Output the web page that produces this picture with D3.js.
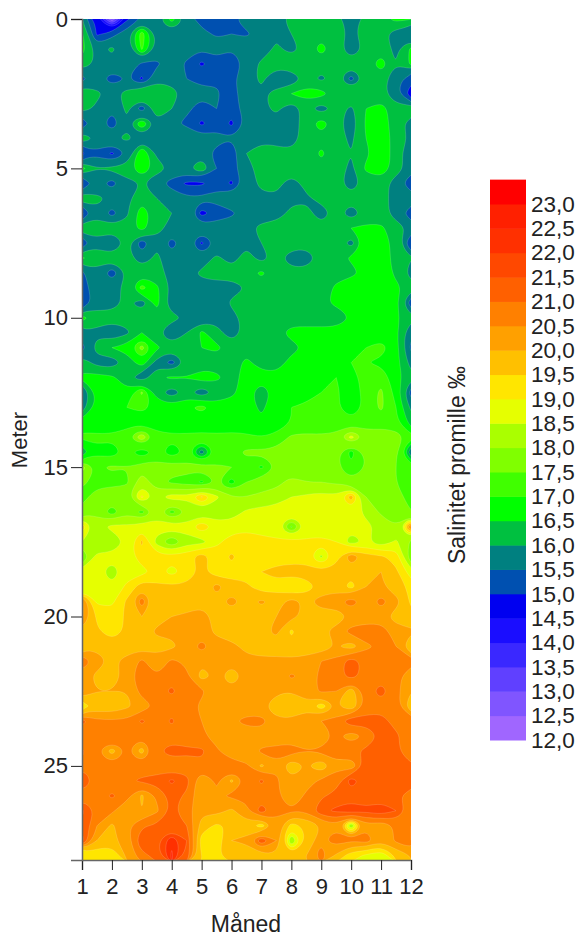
<!DOCTYPE html>
<html>
<head>
<meta charset="utf-8">
<script src="https://d3js.org/d3.v7.min.js"></script>
<style>
    body { margin: 0; background: #fff; }
    text { font-family: "Liberation Sans", Arial, sans-serif; fill: #222; }
</style>
</head>
<body>
<div id="chart"></div>
<script>
// tick labels
const monthTicks = [1, 2, 3, 4, 5, 6, 7, 8, 9, 10, 11, 12];
const depthTicks = [0, 5, 10, 15, 20, 25];

// legend levels (lower limit of every band) and band colours
const levels = d3.range(12, 23.5, 0.5);
const bandColors = ["#a066ff", "#8055ff", "#6040ff", "#3a28ff", "#1a0dff", "#0000f0",
    "#0050b0", "#008080", "#00c040", "#00ff00", "#40ff00", "#80ff00",
    "#aaff00", "#e6ff00", "#ffe600", "#ffc000", "#ffa000", "#ff8000",
    "#ff6000", "#ff4800", "#ff3000", "#ff2000", "#ff0000"];

// grid positions: every half month, every half meter
const gridMonths = d3.range(1, 12.5, 0.5);
const gridDepths = d3.range(0, 28.5, 0.5);

// salinity, one row per depth
const salinity = [
[16.0,14.8,12.6,14.9,15.6,15.9,16.7,15.9,15.2,15.1,15.4,15.8,15.8,15.9,16.1,16.2,16.2,16.2,15.7,16.2,16.3,16.7,16.5],
[16.6,14.9,15.3,15.8,17.3,15.9,15.8,15.8,15.7,15.4,15.5,15.4,15.8,15.9,16.0,16.2,16.3,16.2,15.9,16.2,16.2,15.7,15.5],
[16.7,15.8,16.1,15.6,17.1,15.8,15.8,15.8,15.5,15.8,15.5,15.9,15.7,16.1,15.8,16.2,16.7,16.2,15.7,16.1,16.2,15.9,16.6],
[16.3,15.9,15.8,15.9,15.4,15.4,15.8,15.4,14.9,15.3,15.0,15.7,16.1,16.2,16.4,16.2,16.2,16.2,16.2,16.2,16.8,16.0,16.6],
[15.4,15.7,15.3,15.5,14.9,15.9,15.8,15.5,15.4,15.4,15.4,15.8,16.1,15.6,15.6,16.2,15.9,16.2,15.3,16.2,16.2,15.7,15.2],
[16.4,16.1,15.8,16.2,16.5,16.3,16.2,15.8,15.6,15.6,15.2,15.9,15.9,16.2,16.5,16.7,16.7,16.2,16.5,16.2,16.2,15.6,14.7],
[16.2,15.9,15.6,16.1,15.2,16.3,16.0,15.6,15.3,15.5,15.2,15.8,15.9,16.1,15.7,16.2,15.7,16.2,15.9,16.5,16.7,16.2,16.4],
[15.2,15.8,15.2,15.9,16.9,15.9,15.6,15.4,14.9,15.3,14.9,15.6,15.8,15.8,15.8,16.2,16.8,16.2,15.7,16.6,16.8,16.2,15.8],
[16.4,15.9,15.9,16.1,15.8,16.0,15.9,15.9,15.7,15.7,15.5,15.8,15.9,15.9,15.8,16.2,16.3,16.2,15.9,16.5,16.8,16.3,15.9],
[14.9,15.4,14.9,15.5,17.0,15.9,15.9,15.7,15.8,15.3,15.2,16.0,16.2,16.1,16.1,16.2,16.6,16.2,16.0,16.4,16.8,16.3,15.5],
[16.7,16.0,16.1,16.2,17.0,16.2,15.9,15.9,16.4,15.5,15.3,15.9,16.1,16.2,16.4,16.2,16.3,16.2,15.9,16.6,16.9,16.2,15.8],
[15.0,15.7,15.3,15.9,16.0,15.7,15.3,14.9,14.9,15.3,14.9,15.8,16.1,16.2,15.7,16.2,16.5,16.2,15.7,16.2,16.2,15.8,15.1],
[16.4,16.1,15.9,15.9,16.3,16.0,15.8,15.6,15.6,15.7,15.9,15.9,15.9,15.9,15.9,15.9,16.2,16.2,16.2,16.2,16.2,15.8,15.9],
[14.9,15.9,15.3,15.9,16.8,16.2,16.0,15.9,14.8,15.2,15.4,15.8,15.8,15.8,16.1,16.2,15.7,16.2,15.7,16.2,16.2,15.8,15.2],
[16.4,16.2,16.2,16.2,16.7,16.1,15.9,15.8,15.8,15.8,15.8,15.9,16.1,16.2,16.4,16.2,16.2,16.2,16.5,16.6,16.6,16.2,15.9],
[15.1,15.9,15.5,16.1,15.2,15.9,15.3,15.8,14.9,15.6,15.9,15.9,16.0,16.2,16.3,16.2,16.2,16.3,15.8,16.7,16.8,16.3,15.0],
[16.6,16.2,16.2,16.2,15.7,16.1,15.7,15.9,15.7,16.1,15.8,16.2,15.8,16.2,15.7,15.7,16.2,16.2,16.6,16.7,16.8,16.3,16.0],
[15.4,15.9,15.2,16.0,16.3,16.2,15.8,15.8,16.1,16.2,16.2,16.3,16.6,16.2,16.2,16.2,16.2,16.3,16.3,16.7,16.8,16.4,15.8],
[15.1,16.0,15.9,16.1,17.2,16.6,15.9,15.8,15.8,15.8,15.8,16.0,16.2,16.2,16.2,16.2,16.2,16.6,17.0,16.7,16.8,16.6,16.3],
[15.0,15.8,15.8,16.1,15.7,16.7,15.6,15.8,15.9,15.5,16.1,16.1,16.1,16.2,16.4,16.2,16.4,16.6,16.7,16.8,16.7,16.6,15.2],
[16.7,16.2,16.2,16.2,16.4,16.2,16.2,15.9,15.7,15.8,15.8,16.2,16.2,16.2,16.2,16.2,16.2,16.2,16.5,16.7,16.8,16.6,16.2],
[15.9,15.9,15.6,15.9,16.5,16.1,15.5,16.0,16.6,16.2,15.7,16.2,16.2,16.3,16.7,16.7,16.7,16.7,16.8,16.8,16.7,16.6,15.6],
[15.3,16.2,16.5,16.7,17.7,16.6,16.2,16.2,16.5,16.6,16.3,16.3,16.3,16.3,16.3,16.6,16.8,16.8,16.9,17.0,17.2,16.7,15.4],
[16.3,15.8,15.7,16.2,16.8,15.8,15.3,16.1,16.2,16.3,16.3,16.6,16.3,16.2,16.7,16.8,16.8,16.8,17.0,17.0,16.9,16.7,15.8],
[16.6,16.7,16.6,16.2,15.6,16.4,16.6,16.5,16.8,16.6,16.3,16.7,16.7,16.7,16.7,16.7,16.8,17.0,16.9,17.1,17.3,16.7,16.2],
[15.5,16.6,16.7,16.6,17.6,16.2,15.7,16.2,15.6,16.2,16.4,16.7,16.2,16.7,16.7,16.8,17.0,17.1,16.7,17.2,17.6,16.8,15.3],
[15.7,16.7,16.7,17.0,17.1,16.9,16.7,16.9,17.2,16.7,16.7,16.7,16.4,16.8,17.0,17.1,17.1,17.1,16.5,17.2,17.6,17.0,15.9],
[16.8,16.7,16.7,16.7,16.8,16.7,16.7,16.7,16.6,16.7,16.8,16.7,16.6,16.8,17.0,17.2,17.1,17.1,17.2,17.2,17.2,17.1,16.3],
[17.1,17.1,17.1,17.4,18.4,17.2,17.1,17.1,17.2,17.1,17.1,17.1,17.0,17.1,17.6,17.6,17.6,17.7,18.7,17.8,17.9,17.8,17.2],
[16.2,16.9,16.7,17.2,16.6,17.2,16.7,17.1,15.7,17.1,17.3,17.6,17.6,17.7,17.7,17.7,17.8,17.7,16.8,17.7,17.7,17.6,15.6],
[18.2,17.4,17.6,17.5,17.8,17.7,17.7,17.7,17.7,17.6,17.5,17.3,16.9,17.5,17.6,17.6,17.6,17.6,17.1,17.5,17.7,17.5,17.4],
[17.7,17.2,17.3,17.4,18.3,17.7,17.4,17.3,16.9,17.5,16.8,17.5,17.8,17.8,18.2,18.0,18.0,17.9,17.6,17.5,17.5,17.5,17.3],
[17.2,17.9,17.9,17.9,19.1,18.3,18.8,18.6,19.6,18.6,18.0,18.0,18.1,18.3,18.5,18.6,18.7,18.6,19.8,18.0,17.7,17.6,17.4],
[17.8,17.9,17.2,17.9,17.3,18.3,17.3,18.0,18.2,18.1,18.2,18.6,18.7,18.7,18.8,18.7,18.7,18.7,18.7,18.4,17.9,17.6,17.5],
[19.3,18.2,18.7,18.6,18.8,18.7,18.8,18.7,19.4,18.8,18.8,18.9,18.6,18.7,17.4,18.6,18.8,18.7,18.7,18.6,18.4,18.0,20.6],
[18.5,18.0,18.0,18.6,19.6,18.3,17.5,18.3,18.3,18.9,19.2,19.2,19.3,19.1,19.2,19.1,19.1,19.0,18.2,18.6,18.1,18.6,17.9],
[17.4,18.7,18.7,18.7,19.3,19.2,19.2,19.3,19.8,19.2,19.6,19.2,19.2,19.2,19.3,19.2,18.4,19.3,20.4,19.7,19.6,19.3,17.6],
[18.8,18.7,18.2,18.8,18.8,19.2,18.8,19.2,19.6,19.2,19.3,19.3,19.5,19.7,19.7,19.8,19.6,19.7,19.7,19.8,20.0,19.6,18.7],
[18.5,18.7,18.6,19.1,19.8,19.6,19.6,19.6,19.6,20.2,19.7,19.6,19.2,19.3,19.0,19.2,19.7,19.8,19.3,20.0,20.1,19.7,19.4],
[20.6,18.9,18.9,19.6,20.8,19.6,19.7,19.7,19.7,19.8,20.2,19.8,20.1,19.8,20.2,19.9,20.2,20.3,20.8,20.2,20.7,20.2,19.4],
[20.6,19.4,19.2,19.6,20.0,19.8,20.0,20.1,20.4,19.7,19.7,19.6,19.7,20.0,20.1,19.9,19.8,19.7,20.1,20.2,20.2,19.8,19.7],
[19.9,19.6,19.2,19.6,19.7,20.1,20.1,20.1,20.2,19.9,19.8,19.8,19.9,20.1,19.4,19.9,19.9,20.2,20.7,20.8,20.8,20.2,20.1],
[19.7,19.9,19.8,19.7,19.8,19.8,19.9,20.2,20.7,20.2,20.1,19.9,19.8,19.8,19.7,19.7,19.7,20.0,19.7,20.4,20.6,20.5,19.5],
[21.0,20.2,19.9,20.2,20.6,20.2,20.6,20.4,20.1,20.1,20.1,20.1,20.1,20.1,20.1,20.2,20.5,20.7,21.3,20.8,20.7,20.7,20.8],
[20.2,19.9,19.7,20.2,20.9,20.5,20.8,20.6,19.8,20.1,19.8,20.1,20.1,20.1,20.6,20.3,20.6,20.8,21.2,20.8,20.8,20.7,20.1],
[20.6,20.0,20.0,20.0,20.7,20.8,21.1,20.7,20.6,20.1,20.1,20.1,20.1,20.1,20.0,20.2,20.6,20.5,19.7,20.8,21.2,20.7,20.0],
[19.2,19.7,19.6,19.9,20.2,20.6,20.7,20.7,20.4,20.1,20.1,20.1,20.1,19.7,19.6,19.9,19.2,20.0,19.5,20.7,20.8,20.7,19.6],
[21.2,20.6,20.6,20.6,21.1,20.7,21.1,20.6,20.5,20.2,20.4,20.7,20.7,20.1,20.1,20.2,20.5,20.7,21.4,21.2,21.2,20.8,21.0],
[20.6,20.6,21.0,20.7,20.6,20.7,20.7,20.7,20.6,20.3,20.1,20.1,20.2,20.1,20.3,20.1,20.1,20.6,20.2,20.6,21.1,21.1,20.7],
[21.1,20.5,19.8,20.5,19.8,20.9,21.3,21.1,21.1,20.6,20.0,20.1,20.6,20.7,20.7,20.5,20.6,20.7,20.9,21.1,21.2,21.1,20.6],
[20.9,20.7,20.6,20.7,20.7,20.7,20.6,20.7,20.9,20.6,20.9,20.6,19.9,20.4,19.6,20.0,19.6,20.4,20.1,21.2,21.2,21.1,21.1],
[21.5,20.8,20.6,20.9,21.1,21.2,21.6,21.2,20.0,20.6,19.9,20.6,21.1,20.6,20.1,20.3,20.6,20.7,21.8,21.2,21.2,21.1,21.5],
[20.8,20.7,21.1,20.7,19.9,20.6,21.2,20.9,20.1,20.4,20.6,20.6,20.7,20.6,20.1,20.6,20.9,21.2,21.2,21.2,21.1,21.1,20.7],
[21.6,20.9,20.6,20.1,20.0,20.4,21.1,20.7,20.1,20.2,19.9,20.4,21.3,20.6,20.5,20.6,21.4,21.6,21.9,21.6,22.0,21.5,20.7],
[21.4,20.5,19.9,20.4,20.9,21.1,21.1,21.0,19.8,19.4,19.6,19.8,19.2,20.4,19.3,19.6,20.0,20.4,18.0,20.4,20.0,20.6,21.0],
[21.7,20.0,19.9,20.2,21.5,21.4,22.4,21.5,19.2,19.2,20.0,20.1,21.4,20.5,18.0,19.5,20.4,20.8,20.5,20.8,20.1,20.6,21.0],
[19.0,19.1,19.0,20.1,20.8,21.2,22.6,21.3,19.5,19.4,19.9,19.7,19.8,19.9,19.6,20.0,20.8,19.9,19.2,18.9,18.6,19.6,20.0]
];

const width = 579, height = 936;
const plot = { left: 82, right: 411, top: 19, bottom: 860 };
const legend = { left: 490, right: 526 };

const svg = d3.select("#chart").append("svg")
    .attr("width", width)
    .attr("height", height)
    .style("display", "block");

const x = d3.scaleLinear().domain([1, 12]).range([plot.left, plot.right]);
const y = d3.scaleLinear().domain([0, 28.15]).range([plot.top, plot.bottom]);
const legendY = d3.scaleLinear().domain([12, 23]).range([740, 204]);

svg.append("clipPath").attr("id", "plotClip")
    .append("rect")
    .attr("x", plot.left).attr("y", plot.top)
    .attr("width", plot.right - plot.left).attr("height", plot.bottom - plot.top);

// filled contours, lowest level first so the higher ones lie on top
const contours = d3.contours()
    .size([gridMonths.length, gridDepths.length])
    .thresholds(levels)
    (salinity.flat());

// d3.contours puts grid point i at i + 0.5
const ringLine = d3.line()
    .x(d => x(gridMonths[0] + (d[0] - 0.5) * 0.5))
    .y(d => y(gridDepths[0] + (d[1] - 0.5) * 0.5))
    .curve(d3.curveBasisClosed);

const plotArea = svg.append("g").attr("clip-path", "url(#plotClip)");

plotArea.selectAll("path")
    .data(contours)
    .enter().append("path")
    .attr("d", c => c.coordinates.flatMap(poly => poly.map(ring => ringLine(ring.slice(0, -1)))).join(""))
    .attr("fill-rule", "evenodd")
    .attr("fill", (c, i) => bandColors[i])
    .attr("stroke", "#fff")
    .attr("stroke-opacity", 0.25)
    .attr("stroke-width", 0.6);

// axes
const xAxis = svg.append("g")
    .attr("transform", `translate(0,${plot.bottom})`)
    .call(d3.axisBottom(x).tickValues(monthTicks).tickSize(10).tickPadding(8).tickFormat(d3.format("d")));

const yAxis = svg.append("g")
    .attr("transform", `translate(${plot.left},0)`)
    .call(d3.axisLeft(y).tickValues(depthTicks).tickSize(11).tickPadding(3).tickFormat(d3.format("d")));

for (const axis of [xAxis, yAxis]) {
    axis.select(".domain").attr("stroke", "#666").attr("stroke-width", 1.5);
    axis.selectAll(".tick line").attr("stroke", "#222").attr("stroke-width", 1);
    axis.selectAll(".tick text").attr("font-size", 22).attr("font-family", null);
}

svg.append("text")
    .attr("x", 246).attr("y", 932)
    .attr("text-anchor", "middle")
    .attr("font-size", 23)
    .text("Måned");

svg.append("text")
    .attr("transform", "translate(27,440) rotate(-90)")
    .attr("text-anchor", "middle")
    .attr("font-size", 22)
    .text("Meter");

// legend
svg.append("g").selectAll("rect")
    .data(levels)
    .enter().append("rect")
    .attr("x", legend.left)
    .attr("y", d => legendY(d + 0.5))
    .attr("width", legend.right - legend.left)
    .attr("height", d => legendY(d) - legendY(d + 0.5) + 0.5)
    .attr("fill", (d, i) => bandColors[i]);

const legendAxis = svg.append("g")
    .attr("transform", `translate(${legend.right},0)`)
    .call(d3.axisRight(legendY).tickValues(levels).tickSize(0).tickPadding(5)
        .tickFormat(d => d.toFixed(1).replace(".", ",")));
legendAxis.select(".domain").remove();
legendAxis.selectAll(".tick text").attr("font-size", 22.5).attr("font-family", null);

svg.append("text")
    .attr("transform", "translate(465,465) rotate(-90)")
    .attr("text-anchor", "middle")
    .attr("font-size", 23)
    .text("Salinitet promille ‰");
</script>
</body>
</html>
